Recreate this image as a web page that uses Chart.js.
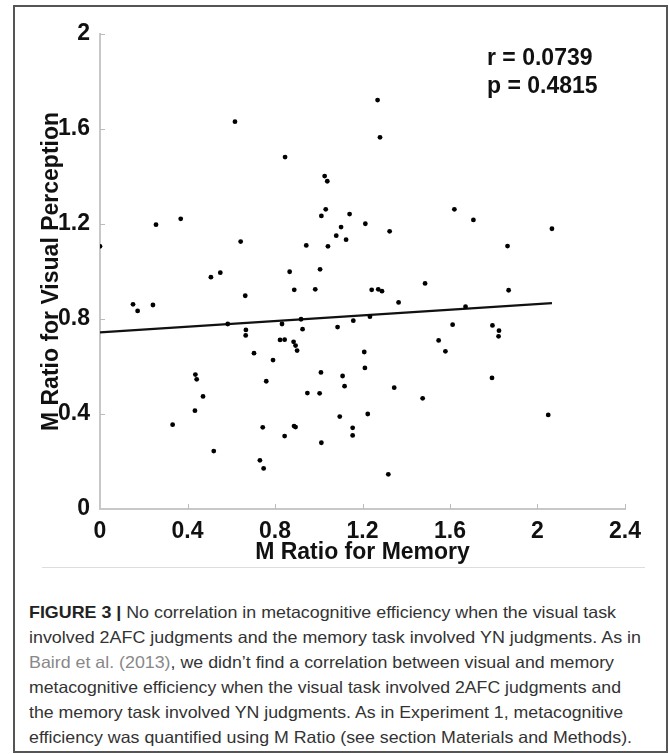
<!DOCTYPE html>
<html>
<head>
<meta charset="utf-8">
<script src="https://cdn.jsdelivr.net/npm/chart.js@4.4.1/dist/chart.umd.min.js"></script>
<style>
  html, body { margin: 0; padding: 0; background: #fff; }
  #page { position: relative; width: 669px; height: 754px; overflow: hidden; font-family: "Liberation Sans", Arial, Helvetica, sans-serif; }
  #frame { position: absolute; left: 13px; top: 5px; width: 655px; height: 748px; border: 2px solid #555; box-sizing: border-box; }
  #chart { position: absolute; left: 0; top: 0; }
  #stats { position: absolute; left: 487px; top: 43px; font-weight: bold; font-size: 23px; line-height: 28px; color: #111; }
  #rule { position: absolute; left: 42px; top: 567px; width: 603px; height: 1px; background: #ddd; }
  #caption { position: absolute; left: 29px; top: 600px; font-size: 16.5px; line-height: 25px; color: #333; }
  #caption div { white-space: nowrap; transform-origin: left center; width: max-content; }
  #caption b { color: #222; }
  .link { color: #888; }
</style>
</head>
<body>
<div id="page">
  <div id="frame"></div>
  <canvas id="chart" width="669" height="600"></canvas>
  <div id="stats">r = 0.0739<br>p = 0.4815</div>
  <div id="rule"></div>
  <div id="caption">
    <div><b>FIGURE 3 |</b> No correlation in metacognitive efficiency when the visual task</div>
    <div>involved 2AFC judgments and the memory task involved YN judgments. As in</div>
    <div><span class="link">Baird et al. (2013)</span>, we didn’t find a correlation between visual and memory</div>
    <div>metacognitive efficiency when the visual task involved 2AFC judgments and</div>
    <div>the memory task involved YN judgments. As in Experiment 1, metacognitive</div>
    <div>efficiency was quantified using M Ratio (see section Materials and Methods).</div>
  </div>
</div>
<script>
// 数据：每个被试的 M Ratio（记忆 / 视觉）
const memoryRatio = [
  0.000, 0.151, 0.172, 0.242, 0.256, 0.332, 0.369, 0.434, 0.436, 0.442,
  0.471, 0.507, 0.520, 0.550, 0.584, 0.617, 0.643, 0.664, 0.667, 0.666,
  0.704, 0.731, 0.744, 0.748, 0.760, 0.791, 0.823, 0.832, 0.844, 0.844,
  0.846, 0.867, 0.885, 0.887, 0.888, 0.894, 0.894, 0.901, 0.919, 0.926,
  0.943, 0.948, 0.984, 1.004, 1.006, 1.010, 1.012, 1.012, 1.027, 1.032,
  1.039, 1.042, 1.080, 1.086, 1.096, 1.102, 1.109, 1.118, 1.125, 1.141,
  1.155, 1.155, 1.158, 1.208, 1.211, 1.213, 1.224, 1.234, 1.242, 1.269,
  1.272, 1.280, 1.289, 1.318, 1.324, 1.345, 1.365, 1.475, 1.486, 1.548,
  1.579, 1.612, 1.620, 1.671, 1.707, 1.792, 1.794, 1.822, 1.824, 1.863,
  1.868, 2.049, 2.066
];
const visualRatio = [
  1.106, 0.862, 0.834, 0.859, 1.197, 0.355, 1.222, 0.414, 0.566, 0.546,
  0.474, 0.976, 0.244, 0.995, 0.779, 1.631, 1.126, 0.898, 0.754, 0.731,
  0.656, 0.205, 0.344, 0.171, 0.538, 0.627, 0.712, 0.779, 0.713, 0.307,
  1.482, 0.999, 0.704, 0.349, 0.923, 0.688, 0.345, 0.667, 0.799, 0.757,
  1.110, 0.488, 0.925, 0.487, 1.009, 0.575, 1.234, 0.279, 1.402, 1.262,
  1.380, 1.106, 1.151, 0.766, 0.389, 1.187, 0.560, 0.517, 1.134, 1.242,
  0.342, 0.310, 0.793, 0.661, 0.594, 1.201, 0.400, 0.810, 0.923, 1.722,
  0.925, 1.565, 0.917, 0.146, 1.169, 0.511, 0.870, 0.466, 0.950, 0.710,
  0.664, 0.776, 1.262, 0.852, 1.217, 0.552, 0.773, 0.727, 0.751, 1.107,
  0.921, 0.396, 1.180
];

// 回归线两端
const fitX = [0, 2.066];
const fitY = [0.744, 0.867];

const xTickLabels = ['0', '0.4', '0.8', '1.2', '1.6', '2', '2.4'];
const yTickLabels = ['0', '0.4', '0.8', '1.2', '1.6', '2'];

const FONT = '"Liberation Sans", Arial, Helvetica, sans-serif';
const boldFont = { family: FONT, size: 23, weight: 'bold' };

// 坐标轴内侧的小刻度
const innerTicks = {
  id: 'innerTicks',
  beforeDatasetsDraw(chart) {
    const { ctx, scales: { x, y } } = chart;
    ctx.save();
    ctx.strokeStyle = '#bbb';
    ctx.lineWidth = 1;
    ctx.beginPath();
    x.ticks.forEach(t => {
      if (t.value === 0) return;
      const px = Math.round(x.getPixelForValue(t.value)) + 0.5;
      ctx.moveTo(px, y.bottom);
      ctx.lineTo(px, y.bottom - 5);
    });
    y.ticks.forEach(t => {
      if (t.value === 0) return;
      const py = Math.round(y.getPixelForValue(t.value)) + 0.5;
      ctx.moveTo(x.left, py);
      ctx.lineTo(x.left + 5, py);
    });
    ctx.stroke();
    ctx.restore();
  }
};

new Chart(document.getElementById('chart'), {
  type: 'scatter',
  data: {
    datasets: [
      {
        data: memoryRatio.map((v, i) => ({ x: v, y: visualRatio[i] })),
        pointRadius: 2.4,
        pointBackgroundColor: '#000',
        pointBorderWidth: 0,
        order: 0
      },
      {
        data: fitX.map((v, i) => ({ x: v, y: fitY[i] })),
        showLine: true,
        borderColor: '#111',
        borderWidth: 2.2,
        pointRadius: 0,
        order: 1
      }
    ]
  },
  options: {
    responsive: false,
    animation: false,
    devicePixelRatio: 1,
    layout: { padding: { left: 0, top: 34, right: 44, bottom: 0 } },
    plugins: { legend: { display: false }, tooltip: { enabled: false } },
    scales: {
      x: {
        type: 'linear',
        min: 0, max: 2.4,
        afterFit: s => { s.height = 91; },
        ticks: {
          stepSize: 0.4, autoSkip: false, maxRotation: 0, padding: 9,
          color: '#111', font: boldFont,
          callback: (v, i) => xTickLabels[i]
        },
        grid: { display: false, drawTicks: false },
        border: { display: true, color: '#c8c8c8', width: 2 },
        title: {
          display: true, text: 'M Ratio for Memory', color: '#111',
          font: boldFont, padding: { top: 0, bottom: 34 }
        }
      },
      y: {
        type: 'linear',
        min: 0, max: 2,
        afterFit: s => { s.width = 100; },
        ticks: {
          stepSize: 0.4, autoSkip: false, padding: 10,
          color: '#111', font: boldFont,
          callback: (v, i) => yTickLabels[i]
        },
        grid: { display: false, drawTicks: false },
        border: { display: true, color: '#c8c8c8', width: 2 },
        title: {
          display: true, text: 'M Ratio for Visual Perception', color: '#111',
          font: boldFont, padding: { top: 38, bottom: 0 }
        }
      }
    }
  },
  plugins: [innerTicks]
});

// 图注每行拉伸到原图的宽度
const lineWidths = [587, 612, 585, 592, 594, 603];
document.querySelectorAll('#caption div').forEach((row, i) => {
  const w = row.getBoundingClientRect().width;
  row.style.transform = `scaleX(${lineWidths[i] / w})`;
});
</script>
</body>
</html>
